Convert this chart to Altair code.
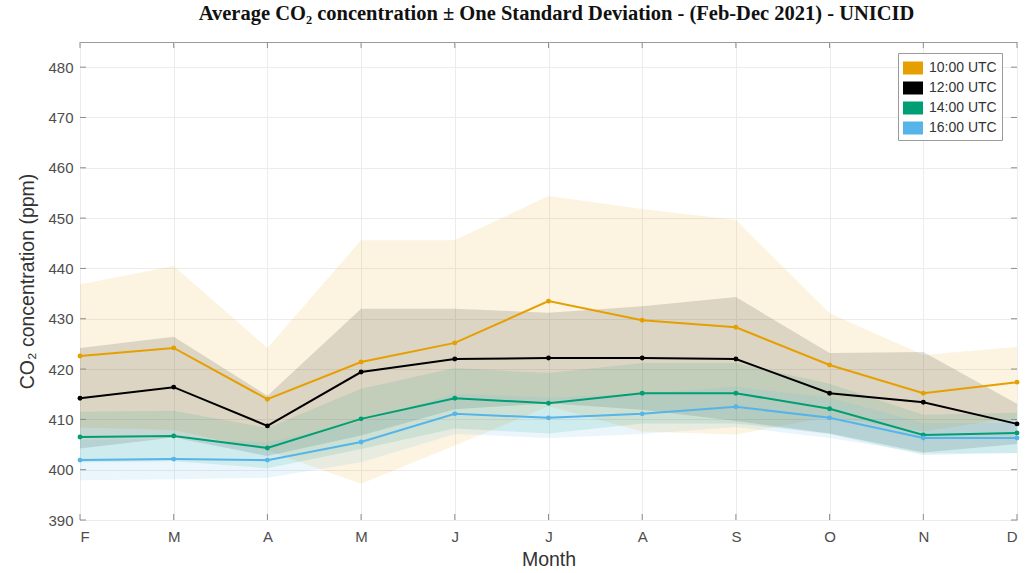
import json
import altair as alt
import pandas as pd

# Months Feb-Dec 2021 (x positions 0..10)
months = ["F", "M", "A", "M", "J", "J", "A", "S", "O", "N", "D"]
series = ["10:00 UTC", "12:00 UTC", "14:00 UTC", "16:00 UTC"]
colors = ["#E69F00", "#000000", "#009E73", "#56B4E9"]

# Monthly mean CO2 (ppm) per hour of day
mean_10 = [422.6, 424.2, 414.0, 421.4, 425.2, 433.5, 429.7, 428.3, 420.8, 415.2, 417.4]
mean_12 = [414.2, 416.4, 408.7, 419.4, 422.0, 422.2, 422.2, 422.0, 415.2, 413.4, 409.1]
mean_14 = [406.5, 406.7, 404.3, 410.1, 414.2, 413.2, 415.2, 415.2, 412.1, 406.9, 407.3]
mean_16 = [401.9, 402.1, 401.9, 405.5, 411.1, 410.3, 411.1, 412.5, 410.3, 406.3, 406.3]

# One standard deviation (ppm)
std_10 = [14.2, 16.3, 10.2, 24.2, 20.4, 20.9, 22.1, 21.3, 10.3, 7.6, 7.0]
std_12 = [10.0, 10.0, 6.0, 12.6, 10.0, 9.0, 10.3, 12.3, 8.0, 10.0, 4.0]
std_14 = [5.0, 5.0, 4.0, 6.0, 6.0, 6.0, 6.0, 6.0, 5.0, 4.0, 4.0]
std_16 = [4.0, 4.0, 3.5, 4.0, 4.0, 4.0, 4.0, 4.0, 4.0, 3.0, 3.0]

y_ticks = [390, 400, 410, 420, 430, 440, 450, 460, 470, 480]

rows = []
for name, means, stds in zip(series, [mean_10, mean_12, mean_14, mean_16],
                             [std_10, std_12, std_14, std_16]):
    for i, (m, s) in enumerate(zip(means, stds)):
        rows.append({"month": i, "series": name, "mean": m,
                     "lo": m - s, "hi": m + s})
df = pd.DataFrame(rows)

W, H = 937, 478
x_scale = alt.Scale(domain=[0, 10], nice=False)
y_scale = alt.Scale(domain=[390, 485], nice=False)
color_scale = alt.Scale(domain=series, range=colors)
label_expr = json.dumps(months) + "[datum.value]"

x_enc = alt.X("month:Q", scale=x_scale, title="Month",
              axis=alt.Axis(values=list(range(11)), labelExpr=label_expr,
                            grid=True, tickSize=0, labelPadding=9,
                            titlePadding=6, domain=False))
y_axis = alt.Axis(values=y_ticks, grid=True, tickSize=0, labelPadding=7,
                  titlePadding=10, domain=False)

legend = alt.Legend(
    title=None, orient="none", legendX=818, legendY=11,
    symbolType="M-1,-0.65L1,-0.65L1,0.65L-1,0.65Z", symbolSize=400,
    symbolStrokeWidth=0, symbolOpacity=1,
    labelFont="Liberation Sans", labelFontSize=14, labelColor="#333333",
    strokeColor="#9a9a9a", fillColor="white", padding=5, rowPadding=3,
    labelOffset=6,
)
color_enc = alt.Color("series:N", scale=color_scale, legend=legend)

base = alt.Chart(df)

bands = base.mark_area(opacity=0.12).encode(
    x=x_enc,
    y=alt.Y("lo:Q", scale=y_scale, axis=y_axis,
            title="CO₂ concentration (ppm)"),
    y2="hi:Q",
    color=color_enc,
)

lines = base.mark_line(strokeWidth=2).encode(
    x="month:Q",
    y=alt.Y("mean:Q", scale=y_scale),
    color=color_enc,
)

points = base.mark_circle(size=24, opacity=1).encode(
    x="month:Q",
    y=alt.Y("mean:Q", scale=y_scale),
    color=color_enc,
)

# Inward tick marks on all four sides
xt = pd.DataFrame({"month": list(range(11))})
yt = pd.DataFrame({"v": y_ticks})
tick_color = "#8c8c8c"
xt_bottom = alt.Chart(xt).mark_rule(color=tick_color).encode(
    x="month:Q", y=alt.value(H), y2=alt.value(H - 6))
xt_top = alt.Chart(xt).mark_rule(color=tick_color).encode(
    x="month:Q", y=alt.value(0), y2=alt.value(6))
yt_left = alt.Chart(yt).mark_rule(color=tick_color).encode(
    y=alt.Y("v:Q", scale=y_scale), x=alt.value(0), x2=alt.value(6))
yt_right = alt.Chart(yt).mark_rule(color=tick_color).encode(
    y=alt.Y("v:Q", scale=y_scale), x=alt.value(W), x2=alt.value(W - 6))

chart = alt.layer(
    bands, xt_bottom, xt_top, yt_left, yt_right, lines, points
).properties(
    width=W, height=H,
    title=alt.TitleParams(
        "Average CO₂ concentration ± One Standard Deviation - (Feb-Dec 2021) - UNICID",
        font="Liberation Serif", fontSize=20.5, fontWeight="bold",
        color="#111111", anchor="middle", offset=17, dx=8),
    autosize=alt.AutoSizeParams(type="none"),
    padding={"left": 80, "top": 42, "right": 8, "bottom": 53},
).configure_view(
    stroke="#9a9a9a", strokeWidth=1,
).configure_axis(
    labelFont="Liberation Sans", labelFontSize=15, labelColor="#4d4d4d",
    titleFont="Liberation Sans", titleFontSize=19.5, titleFontWeight="normal",
    titleColor="#333333", gridColor="#ececec", gridWidth=1,
)

chart.save("out.html", embed_options={"renderer": "svg", "actions": False})
